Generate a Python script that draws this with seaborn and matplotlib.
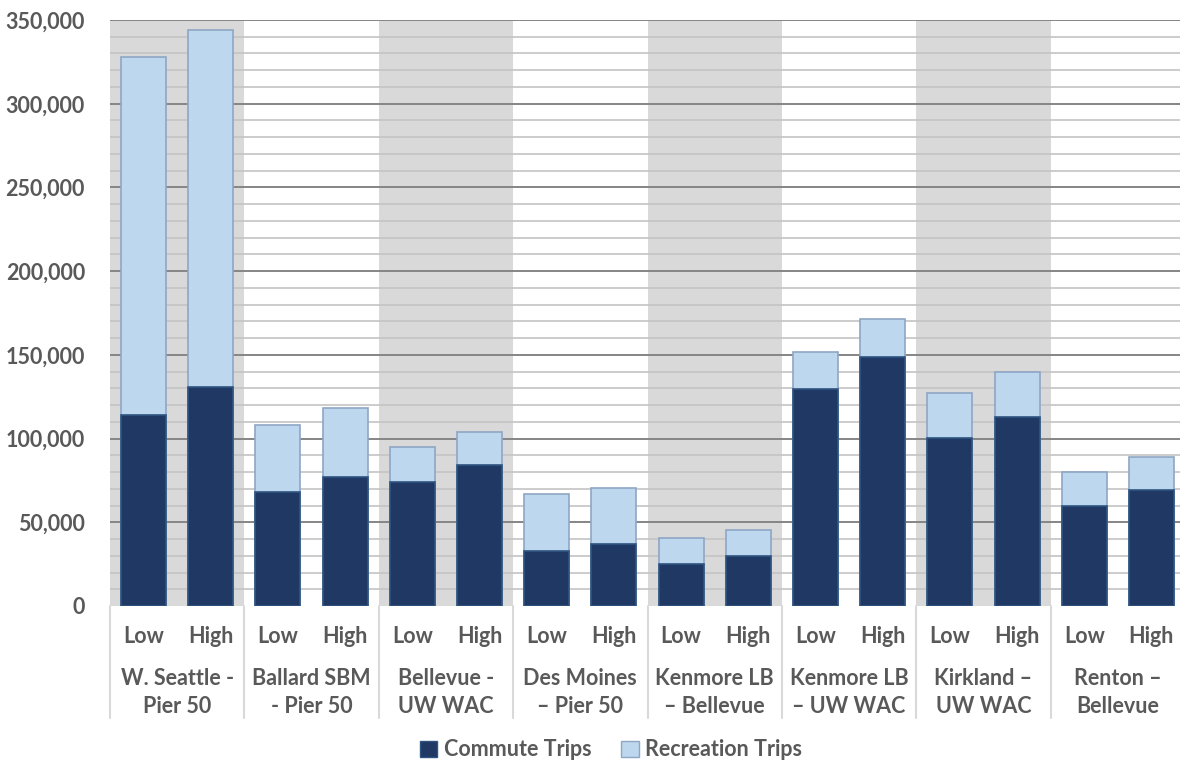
import matplotlib
matplotlib.use("Agg")
import matplotlib.pyplot as plt
import matplotlib.transforms as mtransforms
from matplotlib.patches import Patch
import seaborn as sns
import pandas as pd

routes = ["W. Seattle -\nPier 50", "Ballard SBM\n- Pier 50", "Bellevue -\nUW WAC",
          "Des Moines\n\u2013 Pier 50", "Kenmore LB\n\u2013 Bellevue", "Kenmore LB\n\u2013 UW WAC",
          "Kirkland \u2013\nUW WAC", "Renton \u2013\nBellevue"]
scenarios = ["Low", "High"]
commute = [114000, 131000, 68000, 77000, 74000, 84000, 33000, 37000,
           25000, 30000, 129500, 149000, 100500, 113000, 60000, 69000]
recreation = [214000, 213000, 40000, 41000, 21000, 20000, 34000, 33500,
              15500, 15500, 22500, 22500, 27000, 27000, 20000, 20000]

labels = [f"{r}|{s}" for r in routes for s in scenarios]
df = pd.DataFrame({"bar": labels,
                   "commute": commute,
                   "total": [c + r for c, r in zip(commute, recreation)]})

sns.set_theme(style="white")
plt.rcParams["font.family"] = ["Lato", "DejaVu Sans"]
plt.rcParams["font.weight"] = "bold"

TXT = "#595959"
C_COM = "#1f3864"
C_REC = "#bdd7ee"
FS = 15.5

fig = plt.figure(figsize=(11.8, 7.63), dpi=100)
ax = fig.add_axes([110 / 1180, 1 - 606 / 763, 1075 / 1180, (606 - 20) / 763])

n = len(labels)
for g in range(0, len(routes), 2):
    ax.axvspan(2 * g - 0.5, 2 * g + 1.5, color="#d9d9d9", zorder=0, lw=0)
for v in range(10000, 350001, 10000):
    if v % 50000 == 0:
        ax.axhline(v, color="#858585", lw=1.4, zorder=1)
    else:
        ax.axhline(v, color="#c4c4c4", lw=1.2, zorder=1)

sns.barplot(data=df, x="bar", y="total", order=labels, color=C_REC, saturation=1,
            width=0.67, edgecolor="#8ea6c4", linewidth=1.2, ax=ax, zorder=2)
sns.barplot(data=df, x="bar", y="commute", order=labels, color=C_COM, saturation=1,
            width=0.67, edgecolor="#2f5481", linewidth=1.2, ax=ax, zorder=3)

ax.set_xlim(-0.5, n - 0.5)
ax.set_ylim(0, 350000)
ax.set_yticks(range(0, 350001, 50000))
ax.set_yticklabels([f"{v:,}" for v in range(0, 350001, 50000)], color=TXT,
                   fontsize=FS, fontweight="bold")
ax.tick_params(axis="y", length=0, pad=18)
ax.set_xticks([])
ax.set_xlabel("")
ax.set_ylabel("")
for s in ax.spines.values():
    s.set_visible(False)

trans = mtransforms.blended_transform_factory(ax.transData, ax.transAxes)
for i, lab in enumerate(labels):
    ax.text(i, -0.052, lab.split("|")[1], transform=trans, ha="center", va="center",
            fontsize=FS, fontweight="bold", color=TXT)
for g, r in enumerate(routes):
    ax.text(2 * g + 0.5, -0.147, r, transform=trans, ha="center", va="center",
            fontsize=FS, fontweight="bold", color=TXT, linespacing=1.4)
for g in range(len(routes) + 1):
    ax.plot([2 * g - 0.5, 2 * g - 0.5], [0, -0.191], transform=trans, color="#d9d9d9",
            lw=1.5, clip_on=False)

handles = [Patch(facecolor=C_COM, edgecolor="#2f5481", label="Commute Trips"),
           Patch(facecolor=C_REC, edgecolor="#8ea6c4", label="Recreation Trips")]
fig.legend(handles=handles, loc="center", bbox_to_anchor=(611 / 1180, 1 - 750 / 763),
           ncol=2, frameon=False, handlelength=0.8, handleheight=0.8, handletextpad=0.3,
           columnspacing=1.4, prop={"size": FS, "weight": "bold"}, labelcolor=TXT)

fig.savefig("out.png", dpi=100)
